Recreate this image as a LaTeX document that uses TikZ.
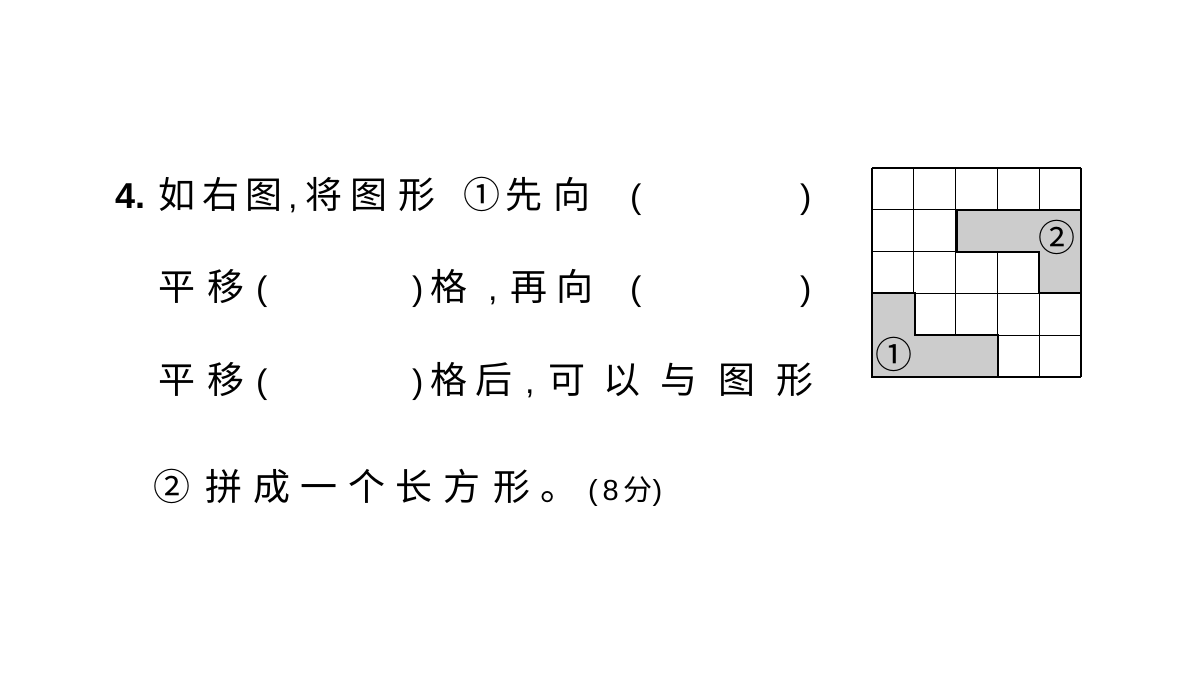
\documentclass[tikz,border=0pt]{standalone}
\usepackage{fontspec}
\newfontfamily\cjk{Noto Sans CJK SC}
\setmainfont{Liberation Sans}
\begin{document}
\begin{tikzpicture}[x=1pt,y=-1pt,
  t/.style={anchor=base west,inner sep=0,font=\fontsize{37}{37}\selectfont\cjk},
  p/.style={anchor=base west,inner sep=0,font=\fontsize{34}{34}\selectfont},
  grid/.style={line width=1.2pt,draw=black},
  shp/.style={fill=black!20,draw=black,line width=2pt}]
\useasboundingbox (0,0) rectangle (1200,675);
% text
\node[anchor=base west,inner sep=0,font=\fontsize{36}{36}\selectfont\bfseries] (n4) at (115,208) {4.};
\foreach \c/\x [count=\k] in {如/158,右/202,图/245,将/305,图/350,形/398,①/463,先/505,向/553}
  \node[t] (a\k) at (\x,208) {\c};
\node[p] (c1) at (288,208) {,};
\node[p] (o1) at (630,208) {(};
\node[p] (e1) at (800,208) {)};
\foreach \c/\x [count=\k] in {平/158,移/207,格/430,再/510,向/556}
  \node[t] (b\k) at (\x,300) {\c};
\node[p] (o2) at (256,300) {(};
\node[p] (e2) at (412,300) {)};
\node[p] (c2) at (488,300) {,};
\node[p] (o3) at (630,300) {(};
\node[p] (e3) at (800,300) {)};
\foreach \c/\x [count=\k] in {平/158,移/207,格/430,后/475,可/548,以/603,与/660,图/718,形/776}
  \node[t] (d\k) at (\x,393) {\c};
\node[p] (o4) at (256,393) {(};
\node[p] (e4) at (412,393) {)};
\node[p] (c3) at (525,393) {,};
\foreach \c/\x [count=\k] in {②/153,拼/205,成/253,一/300,个/348,长/395,方/443,形/493,。/540}
  \node[t] (f\k) at (\x,500) {\c};
\node[anchor=base west,inner sep=0,font=\fontsize{29}{29}\selectfont] (l4b) at (588,500) {(\,8\,{\cjk 分})};
% grid
\def\s{41.8}
\foreach \i in {0,...,5} {
  \draw[grid] (872+\i*\s,168) -- (872+\i*\s,377);
  \draw[grid] (872,168+\i*\s) -- (1081,168+\i*\s);
}
\path[shp] (956.6,209.8) -- (1081,209.8) -- (1081,293.4) -- (1039.2,293.4) -- (1039.2,251.6) -- (956.6,251.6) -- cycle;
\path[shp] (872,293.4) -- (914.8,293.4) -- (914.8,335.2) -- (998.4,335.2) -- (998.4,377) -- (872,377) -- cycle;
\node[font=\fontsize{37}{37}\selectfont\cjk,inner sep=0] (m2) at (1057,237) {②};
\node[font=\fontsize{37}{37}\selectfont\cjk,inner sep=0] (m1) at (894,354) {①};
\end{tikzpicture}
\end{document}
